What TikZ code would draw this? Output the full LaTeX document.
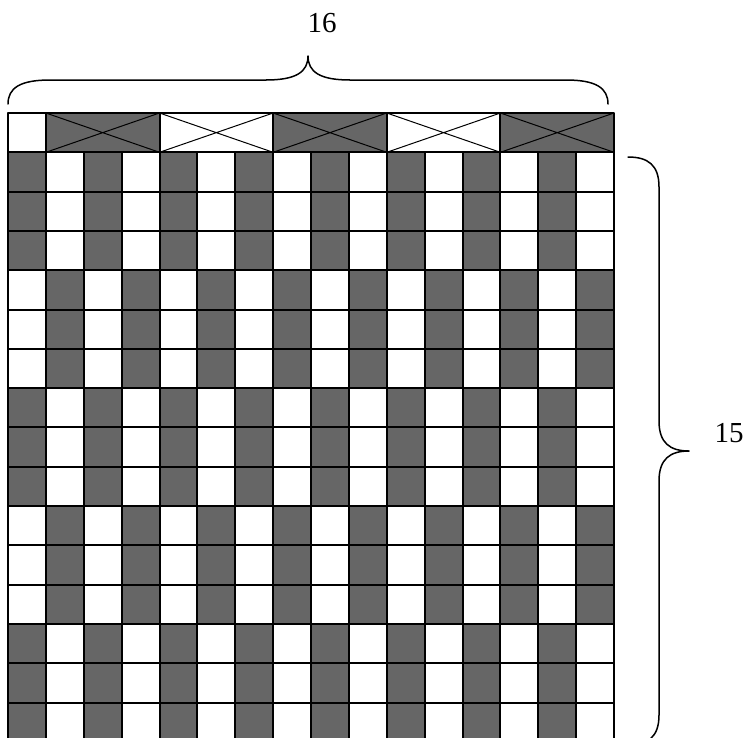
\documentclass[tikz,border=0pt]{standalone}
\usepackage{fontspec}
\setmainfont{Liberation Serif}
\definecolor{warpgray}{RGB}{102,102,102}
\tikzset{cell/.style={draw=black,line width=2pt},
	brace/.style={draw=black,line width=1.5pt,line cap=round}}
\begin{document}
\begin{tikzpicture}[x=1pt,y=-1pt, line join=round, font=\fontsize{29}{34}\selectfont]
	\def\cw{37.875} \def\rh{39.3} \def\xo{8} \def\yo{113}
	\useasboundingbox (0,0) rectangle (746,737);
	% body of the draft
	\foreach \r in {1,...,15}
	{\foreach \c in {0,...,15}
		{\pgfmathtruncatemacro\d{mod(\c+floor((\r-1)/3),2)}
		\ifnum\d=0 \def\fc{warpgray}\else \def\fc{white}\fi
		\draw[cell,fill=\fc] (\xo+\c*\cw,\yo+\r*\rh) rectangle ++(\cw,\rh);}}
	% header row
	\draw[cell,fill=white] (\xo,\yo) rectangle ++(\cw,\rh);
	\foreach \b in {0,...,4}
	{\pgfmathtruncatemacro\d{mod(\b,2)}
		\ifnum\d=0 \def\fc{warpgray}\else \def\fc{white}\fi
		\draw[cell,fill=\fc] (\xo+\cw+\b*3*\cw,\yo) rectangle ++(3*\cw,\rh);
		\draw[line width=1pt] (\xo+\cw+\b*3*\cw,\yo) -- ++(3*\cw,\rh)
			(\xo+\cw+\b*3*\cw,\yo+\rh) -- ++(3*\cw,-\rh);}
	% braces
	\draw[brace] (8,104) .. controls (8,88) and (20,80) .. (50,80) -- (266,80)
		.. controls (296,80) and (308,72) .. (308,56)
		.. controls (308,72) and (320,80) .. (350,80) -- (566,80)
		.. controls (596,80) and (608,88) .. (608,104);
	\draw[brace] (628,157) .. controls (648,157) and (659,165) .. (659,187) -- (659,421)
		.. controls (659,443) and (670,451) .. (689,451)
		.. controls (670,451) and (659,459) .. (659,481) -- (659,715)
		.. controls (659,737) and (648,745) .. (628,745);
	\node[inner sep=0pt] (ncols) at (322,23) {16};
	\node[inner sep=0pt] (nrows) at (729,433) {15};
\end{tikzpicture}
\end{document}
